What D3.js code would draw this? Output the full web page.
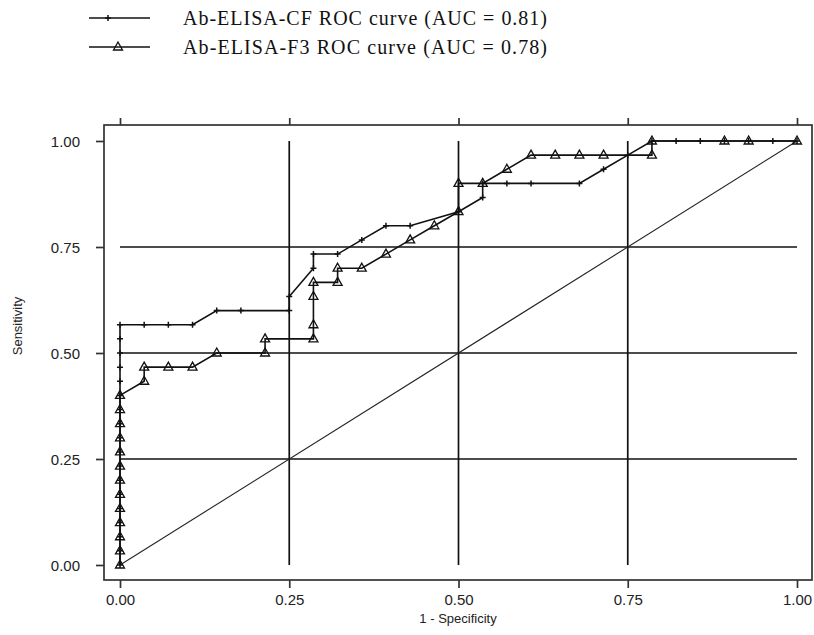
<!DOCTYPE html>
<html><head><meta charset="utf-8">
<script src="https://cdn.jsdelivr.net/npm/d3@7"></script>
<style>body{margin:0;background:#fff}svg{display:block}</style>
</head><body>
<svg id="c" width="814" height="635"></svg>
<script>
// Data (1 - specificity, sensitivity); negatives n=28, positives n=30
const seriesNames = ["Ab-ELISA-CF ROC curve (AUC = 0.81)", "Ab-ELISA-F3 ROC curve (AUC = 0.78)"];
const cfX = [0,0,0,0,0,0,0,0,0,0,0,0,0,0,0,0,0,0,
  1/28,2/28,3/28,4/28,5/28,7/28,7/28,8/28,8/28,9/28,10/28,11/28,12/28,14/28,15/28,15/28,16/28,17/28,19/28,20/28,21/28,22/28,23/28,24/28,25/28,26/28,27/28,1];
const cfY = [0,1/30,2/30,3/30,4/30,5/30,6/30,7/30,8/30,9/30,10/30,11/30,12/30,13/30,14/30,15/30,16/30,17/30,
  17/30,17/30,17/30,18/30,18/30,18/30,19/30,21/30,22/30,22/30,23/30,24/30,24/30,25/30,26/30,27/30,27/30,27/30,27/30,28/30,29/30,1,1,1,1,1,1,1];
const f3X = [0,0,0,0,0,0,0,0,0,0,0,0,0,
  1/28,1/28,2/28,3/28,4/28,6/28,6/28,8/28,8/28,8/28,8/28,9/28,9/28,10/28,11/28,12/28,13/28,14/28,14/28,15/28,16/28,17/28,18/28,19/28,20/28,22/28,22/28,25/28,26/28,1];
const f3Y = [0,1/30,2/30,3/30,4/30,5/30,6/30,7/30,8/30,9/30,10/30,11/30,12/30,
  13/30,14/30,14/30,14/30,15/30,15/30,16/30,16/30,17/30,19/30,20/30,20/30,21/30,21/30,22/30,23/30,24/30,25/30,27/30,27/30,28/30,29/30,29/30,29/30,29/30,29/30,1,1,1,1];
const tickValues = [0, 0.25, 0.5, 0.75, 1];
const tickLabels = ["0.00", "0.25", "0.50", "0.75", "1.00"];
const xTitle = "1 - Specificity", yTitle = "Sensitivity";

const svg = d3.select("#c");
const x = d3.scaleLinear().domain([0, 1]).range([120, 797]);
const y = d3.scaleLinear().domain([0, 1]).range([565, 141]);
const frame = {l: 104, r: 812, t: 125, b: 580};
const ink = "#111";

// grid lines
const g = svg.append("g").attr("stroke", ink).attr("stroke-width", 1.7);
[0.25, 0.5, 0.75].forEach(v => {
  g.append("line").attr("x1", x(0)).attr("x2", x(1)).attr("y1", y(v)).attr("y2", y(v));
  g.append("line").attr("y1", y(0)).attr("y2", y(1)).attr("x1", x(v)).attr("x2", x(v));
});
// diagonal reference
svg.append("line").attr("x1", x(0)).attr("y1", y(0)).attr("x2", x(1)).attr("y2", y(1))
  .attr("stroke", "#222").attr("stroke-width", 1.1);

// frame
svg.append("rect").attr("x", frame.l).attr("y", frame.t).attr("width", frame.r - frame.l).attr("height", frame.b - frame.t)
  .attr("fill", "none").attr("stroke", "#333").attr("stroke-width", 1.7);

// axes
const fmt = (d) => tickLabels[tickValues.indexOf(d)];
const xb = svg.append("g").attr("transform", `translate(0,${frame.b})`)
  .call(d3.axisBottom(x).tickValues(tickValues).tickFormat(fmt).tickSize(8).tickSizeOuter(0));
const xt = svg.append("g").attr("transform", `translate(0,${frame.t})`)
  .call(d3.axisTop(x).tickValues(tickValues).tickFormat("").tickSize(7).tickSizeOuter(0));
const yl = svg.append("g").attr("transform", `translate(${frame.l},0)`)
  .call(d3.axisLeft(y).tickValues(tickValues).tickFormat(fmt).tickSize(8).tickSizeOuter(0));
[xb, xt, yl].forEach(a => {
  a.select(".domain").remove();
  a.selectAll(".tick line").attr("stroke", "#333").attr("stroke-width", 1.7);
  a.selectAll("text").attr("font-family", "Liberation Sans, Arial, sans-serif").attr("font-size", 15).attr("fill", "#222");
});
xb.selectAll("text").attr("dy", "0.9em");
yl.selectAll("text").attr("dx", "-13").attr("dy", "0.35em");

svg.append("text").attr("x", 458).attr("y", 623).attr("text-anchor", "middle")
  .attr("font-family", "Liberation Sans, Arial, sans-serif").attr("font-size", 13).attr("fill", "#222").text(xTitle);
svg.append("text").attr("transform", "translate(22,326) rotate(-90)").attr("text-anchor", "middle")
  .attr("font-family", "Liberation Sans, Arial, sans-serif").attr("font-size", 13).attr("fill", "#222").text(yTitle);

// curves
const line = d3.line().x(d => x(d[0])).y(d => y(d[1]));
const cf = cfX.map((v, i) => [v, cfY[i]]);
const f3 = f3X.map((v, i) => [v, f3Y[i]]);
[cf, f3].forEach(data => svg.append("path").datum(data).attr("d", line)
  .attr("fill", "none").attr("stroke", ink).attr("stroke-width", 1.6));

function drawPlus(sel, px, py) {
  sel.append("path").attr("d", `M${px - 3},${py}H${px + 3}M${px},${py - 3}V${py + 3}`)
    .attr("stroke", ink).attr("stroke-width", 1.5).attr("fill", "none");
}
function drawTri(sel, px, py) {
  sel.append("path").attr("d", `M${px},${py - 5}L${px + 4.5},${py + 3}L${px - 4.5},${py + 3}Z`)
    .attr("stroke", ink).attr("stroke-width", 1.3).attr("fill", "none");
}
const mk = svg.append("g");
cf.forEach(d => drawPlus(mk, x(d[0]), y(d[1])));
f3.forEach(d => drawTri(mk, x(d[0]), y(d[1])));

// legend
const leg = svg.append("g");
const legY = [18, 47];
seriesNames.forEach((name, i) => {
  leg.append("line").attr("x1", 89).attr("x2", 150).attr("y1", legY[i]).attr("y2", legY[i])
    .attr("stroke", ink).attr("stroke-width", 1.6);
  if (i === 0) drawPlus(leg, 108, legY[i]); else drawTri(leg, 118, legY[i]);
  leg.append("text").attr("x", 183).attr("y", legY[i]).attr("dy", "0.35em")
    .attr("textLength", 364).attr("lengthAdjust", "spacing")
    .attr("font-family", "Liberation Serif, Times New Roman, serif").attr("font-size", 20).attr("fill", ink).text(name);
});
</script>
</body></html>
